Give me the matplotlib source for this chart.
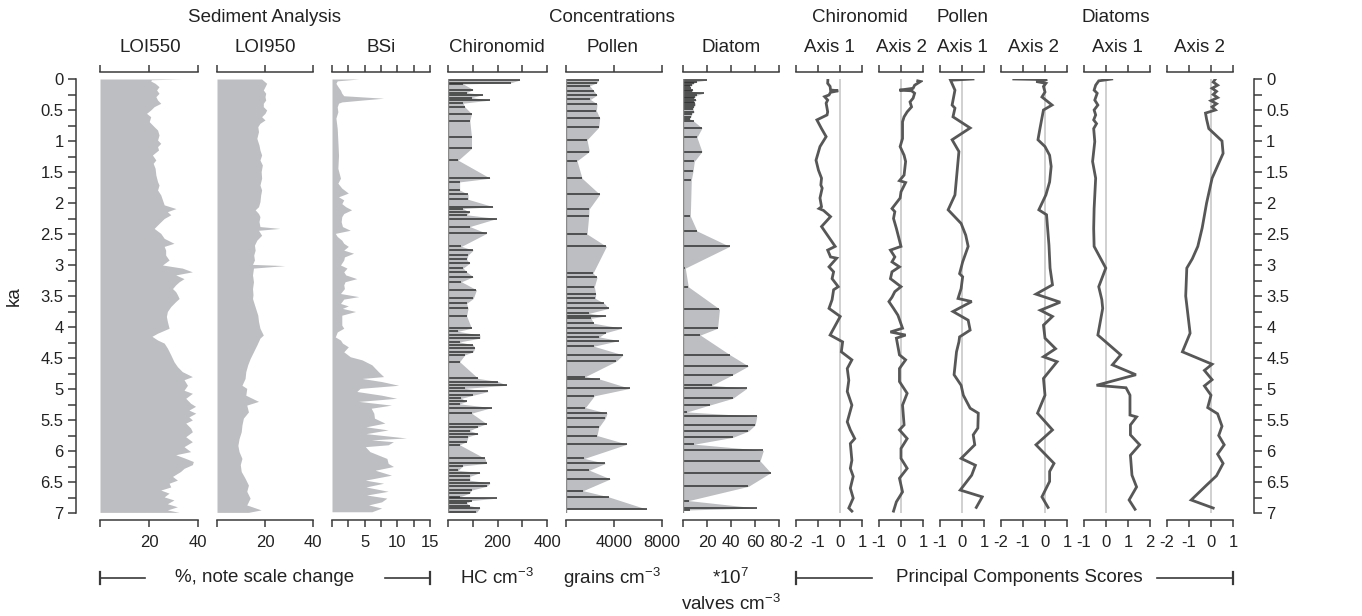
import matplotlib
matplotlib.use('Agg')
import matplotlib.pyplot as plt
from matplotlib.lines import Line2D

plt.rcParams['font.family'] = ['Liberation Sans', 'DejaVu Sans']
plt.rcParams['mathtext.fontset'] = 'custom'
plt.rcParams['mathtext.rm'] = 'Liberation Sans'
plt.rcParams['mathtext.it'] = 'Liberation Sans:italic'

# ---------------- data ----------------
loi550_age = [0.0,0.012,0.032,0.07,0.124,0.177,0.231,0.285,0.339,0.392,0.446,
              0.5,0.554,0.608,0.688,0.769,0.823,0.903,0.984,1.038,1.091,
              1.145,1.226,1.306,1.36,1.44,1.548,1.656,1.71,1.79,1.87,
              1.95,2.03,2.09,2.14,2.19,2.25,2.33,2.41,2.49,2.57,
              2.65,2.70,2.76,2.84,2.92,3.0,3.05,3.11,3.16,3.22,
              3.27,3.32,3.38,3.43,3.48,3.54,3.59,3.67,3.75,3.83,
              3.91,4.02,4.10,4.15,4.21,4.26,4.34,4.45,4.56,4.64,
              4.72,4.80,4.85,4.94,5.02,5.07,5.15,5.23,5.28,5.34,
              5.39,5.45,5.50,5.55,5.63,5.69,5.77,5.85,5.93,6.01,
              6.06,6.12,6.17,6.22,6.28,6.33,6.41,6.47,6.52,6.58,
              6.63,6.68,6.74,6.79,6.85,6.90,6.95,6.99]
loi550_val = [33.4,21.0,20.7,22.5,24.1,23.1,24.1,22.8,23.5,24.8,22.1,
              20.7,19.0,20.7,20.1,22.1,23.5,24.1,23.5,24.8,23.5,
              23.9,21.4,22.8,21.7,22.5,22.8,23.5,24.1,23.5,24.8,
              25.5,26.2,31.0,27.5,28.9,26.2,24.1,22.1,24.8,26.2,
              30.2,26.2,26.8,26.8,28.2,25.5,33.6,37.7,30.9,34.3,
              32.3,30.9,29.6,30.9,31.6,32.3,30.9,28.9,27.5,27.1,
              27.5,28.2,23.5,21.2,23.5,26.2,27.5,28.9,30.2,31.6,
              33.6,37.7,34.3,35.7,34.3,37.7,35.0,37.0,39.0,36.3,
              39.1,36.3,37.7,35.0,37.0,37.7,35.0,37.7,34.3,37.0,
              30.9,35.0,38.1,37.7,34.3,32.9,29.6,31.6,28.2,28.9,
              24.8,28.2,26.2,30.2,27.5,31.6,27.5,32.3]

loi950_age = [0.0,0.07,0.124,0.177,0.231,0.285,0.339,0.392,0.446,0.5,
              0.554,0.608,0.661,0.715,0.769,0.849,0.957,1.065,1.145,1.226,
              1.306,1.387,1.495,1.60,1.71,1.79,1.87,1.98,2.06,2.11,
              2.17,2.22,2.30,2.38,2.41,2.44,2.52,2.60,2.68,2.76,
              2.84,2.92,2.99,3.01,3.05,3.16,3.27,3.38,3.48,3.54,
              3.59,3.70,3.81,3.91,4.02,4.13,4.18,4.29,4.40,4.51,
              4.61,4.72,4.83,4.94,4.99,5.10,5.20,5.26,5.37,5.47,
              5.58,5.69,5.80,5.91,6.01,6.12,6.22,6.33,6.44,6.55,
              6.65,6.76,6.87,6.95,6.99]
loi950_val = [18.6,20.7,20.0,19.3,20.3,20.0,20.3,19.3,19.3,20.7,
              20.0,18.6,20.0,17.9,17.0,17.3,16.6,17.5,17.9,18.6,
              17.9,18.9,18.4,18.6,17.9,18.6,18.2,17.9,17.3,15.9,
              17.3,17.9,17.5,17.9,26.2,17.3,18.6,16.6,15.6,15.9,
              15.3,15.6,14.8,28.3,15.2,14.8,15.2,14.8,15.0,14.8,
              15.2,16.1,17.0,17.3,17.9,19.3,17.9,16.6,15.2,13.8,
              12.8,12.0,11.7,10.4,12.4,12.0,17.3,12.4,13.1,11.0,
              10.4,10.1,9.2,8.7,9.2,10.4,9.7,10.1,11.7,13.1,
              12.4,13.8,12.4,18.4,13.1]

bsi_age = [0.0,0.03,0.07,0.12,0.18,0.23,0.27,0.31,0.34,0.37,
           0.39,0.45,0.53,0.63,0.80,1.01,1.23,1.44,1.60,1.68,
           1.76,1.84,1.90,1.95,2.01,2.06,2.11,2.17,2.22,2.30,
           2.38,2.44,2.49,2.54,2.60,2.65,2.70,2.76,2.81,2.87,
           2.92,3.0,3.05,3.11,3.16,3.22,3.27,3.32,3.38,3.46,
           3.51,3.55,3.62,3.66,3.70,3.75,3.81,3.89,3.97,4.02,
           4.08,4.16,4.21,4.26,4.32,4.40,4.48,4.53,4.61,4.72,
           4.80,4.83,4.88,4.94,4.99,5.04,5.10,5.15,5.20,5.26,
           5.31,5.39,5.47,5.55,5.61,5.66,5.72,5.79,5.82,5.85,
           5.90,5.93,6.01,6.12,6.20,6.25,6.31,6.39,6.47,6.52,
           6.58,6.65,6.71,6.76,6.82,6.87,6.92,6.98]
bsi_val = [4.1,0.8,0.6,0.9,1.3,1.5,1.8,7.9,4.6,1.5,
           1.0,0.8,0.9,0.6,0.8,0.9,1.0,0.9,1.3,0.9,
           1.5,2.5,1.0,1.8,1.5,2.1,3.0,1.8,1.5,1.4,
           1.6,2.8,0.5,0.8,1.5,1.8,2.5,1.8,3.3,1.9,
           1.8,1.3,2.3,1.8,2.1,3.8,2.0,1.8,1.9,1.3,
           4.1,1.8,1.3,2.5,1.6,3.6,1.5,1.5,1.5,1.8,
           0.8,0.5,1.3,1.6,2.5,1.8,2.8,4.6,6.1,7.1,
           7.9,4.6,7.6,10.2,4.3,3.8,7.6,9.9,4.1,9.1,
           6.0,6.4,6.5,8.1,5.2,8.6,5.2,11.4,6.0,9.4,
           8.6,5.1,5.8,8.4,8.6,9.4,6.6,9.1,5.1,7.9,
           5.2,8.6,5.3,8.4,7.6,5.6,7.6,6.1]

chir_age = [0.016,0.06,0.08,0.17,0.22,0.25,0.30,0.34,0.39,0.45,
            0.56,0.67,0.94,1.12,1.31,1.60,1.66,1.79,1.86,1.94,
            2.06,2.09,2.15,2.19,2.25,2.38,2.49,2.70,2.76,2.84,
            2.91,2.97,3.05,3.11,3.19,3.27,3.40,3.54,3.62,3.70,
            3.82,4.02,4.07,4.13,4.18,4.24,4.29,4.34,4.40,4.45,
            4.56,4.83,4.88,4.94,4.99,5.04,5.10,5.15,5.20,5.24,
            5.30,5.39,5.56,5.61,5.67,5.72,5.77,5.85,5.90,6.12,
            6.20,6.24,6.31,6.35,6.41,6.47,6.52,6.57,6.63,6.68,
            6.74,6.76,6.80,6.84,6.88,6.92,6.99]
chir_val = [291,254,61,102,75,142,95,170,61,68,
            95,88,95,95,41,170,47,47,81,81,
            183,61,88,75,197,88,156,54,102,81,
            75,88,61,75,102,54,115,102,75,81,
            75,95,40,129,129,47,102,108,102,68,
            47,122,203,237,68,163,102,54,75,47,
            176,95,156,122,88,122,81,75,47,149,
            156,61,41,129,88,88,170,156,95,88,
            47,197,95,75,88,129,115]

pollen_age = [0.016,0.06,0.11,0.19,0.26,0.33,0.40,0.51,0.63,0.78,
              0.98,1.17,1.32,1.60,1.86,2.10,2.21,2.50,2.70,3.13,
              3.20,3.35,3.47,3.54,3.62,3.70,3.78,3.82,3.86,3.94,
              4.02,4.09,4.16,4.22,4.31,4.45,4.55,4.80,4.84,4.99,
              5.11,5.30,5.39,5.47,5.62,5.75,5.89,6.12,6.20,6.31,
              6.45,6.64,6.74,6.94]
pollen_val = [2724,2585,1974,2307,2585,2029,2585,2530,2808,2724,
              1751,1946,917,1334,2808,1918,1890,1751,3364,2252,
              2585,2363,2474,2446,3197,3558,1918,3364,2085,2307,
              4670,3336,2780,4392,2307,4754,4198,1612,2808,5310,
              2363,1612,3419,3280,2724,2585,5087,1529,3280,1946,
              3697,1418,3558,6755]

diatom_age = [0.016,0.043,0.07,0.097,0.12,0.15,0.18,0.20,0.23,0.26,
              0.285,0.31,0.34,0.37,0.39,0.42,0.45,0.49,0.53,0.56,
              0.61,0.64,0.68,0.79,0.94,1.17,1.33,1.49,1.63,2.21,
              2.45,2.70,3.05,3.35,3.71,4.02,4.13,4.45,4.63,4.77,
              4.94,4.99,5.15,5.26,5.37,5.44,5.58,5.68,5.78,5.89,
              5.99,6.16,6.35,6.57,6.80,6.92,6.95]
diatom_val = [19.9,11.6,8.9,7.5,6.1,6.6,8.3,7.5,17.2,11.6,
              10.2,9.4,11.1,8.9,10.2,10.2,8.9,8.3,9.4,7.5,
              6.6,5.5,8.9,15.8,11.6,15.8,9.4,8.3,6.9,6.1,
              11.6,38.8,1.9,4.4,30.4,28.8,14.4,39.3,54.5,41.5,
              24.1,53.1,41.5,22.1,3.3,61.5,60.1,54.5,41.5,9.4,
              67.0,64.2,73.1,54.5,4.7,61.5,6.1]

ca1_age = [0.0,0.07,0.12,0.177,0.19,0.215,0.258,0.285,0.34,0.39,
           0.53,0.58,0.66,0.80,0.93,1.09,1.31,1.47,1.60,1.71,
           1.76,1.92,2.06,2.09,2.12,2.22,2.38,2.70,2.76,2.87,
           2.89,3.03,3.11,3.22,3.35,3.40,3.56,3.70,3.83,4.13,
           4.24,4.40,4.53,4.67,4.86,5.04,5.26,5.53,5.66,5.80,
           5.88,6.15,6.28,6.41,6.60,6.76,6.92,6.97]
ca1_val = [-0.55,-0.56,-0.45,-0.43,-0.08,-0.43,-0.50,-0.70,-0.56,-0.63,
           -0.56,-0.59,-1.05,-0.84,-0.63,-0.91,-1.09,-0.98,-0.84,-0.87,
           -0.81,-0.91,-0.84,-0.95,-0.75,-0.43,-0.84,-0.22,-0.56,-0.43,
           -0.15,-0.50,-0.29,-0.36,-0.08,-0.29,-0.36,-0.50,0.01,-0.45,
           0.12,0.06,0.54,0.33,0.40,0.33,0.54,0.33,0.47,0.67,
           0.47,0.54,0.47,0.60,0.47,0.60,0.40,0.54]

ca2_age = [0.03,0.04,0.10,0.15,0.18,0.19,0.23,0.31,0.37,0.45,
           0.53,0.61,0.69,0.96,1.09,1.23,1.33,1.55,1.64,1.67,
           1.82,1.92,2.09,2.14,2.25,2.41,2.70,2.76,2.87,2.95,
           3.03,3.11,3.22,3.35,3.43,3.52,3.59,3.70,3.81,4.02,
           4.08,4.13,4.18,4.45,4.53,4.67,4.88,5.07,5.26,5.58,
           5.66,5.80,5.96,6.12,6.28,6.44,6.66,6.82,6.97]
ca2_val = [0.76,0.89,0.62,0.55,-0.07,0.48,0.62,0.55,0.41,0.48,
           0.28,0.14,0.07,0.07,-0.04,0.14,0.21,0.14,-0.07,0.21,
           0.0,-0.04,-0.41,-0.28,-0.34,-0.21,0.0,-0.48,-0.28,-0.41,
           -0.07,-0.41,-0.48,0.0,-0.28,-0.41,-0.55,-0.34,-0.14,0.07,
           -0.48,0.21,-0.21,-0.07,0.21,-0.07,-0.07,0.28,0.07,0.14,
           -0.07,0.28,0.0,0.0,0.28,-0.07,0.07,-0.21,-0.34]

pa1_age = [0.0,0.02,0.18,0.42,0.47,0.61,0.79,0.98,1.17,1.87,
           2.11,2.33,2.52,2.70,2.95,3.14,3.19,3.38,3.54,3.59,
           3.75,3.89,4.05,4.16,4.24,4.40,4.77,4.94,5.10,5.31,
           5.39,5.63,5.74,5.90,6.12,6.23,6.39,6.63,6.74,6.91]
pa1_val = [0.5,-0.52,-0.32,-0.45,-0.32,-0.41,0.37,-0.45,-0.14,-0.32,
           -0.63,-0.04,0.17,0.28,0.03,-0.11,0.03,-0.04,-0.18,0.44,
           -0.41,0.28,0.37,-0.11,-0.14,-0.25,-0.36,-0.04,0.06,0.37,
           0.74,0.72,0.51,0.58,-0.04,0.61,0.44,-0.08,0.92,0.65]

pa2_age = [0.0,0.01,0.04,0.07,0.12,0.21,0.29,0.42,0.50,0.63,
           0.80,0.98,1.09,1.23,1.41,1.66,1.87,2.11,2.19,2.68,
           3.05,3.32,3.47,3.60,3.73,3.83,3.97,4.18,4.35,4.48,
           4.56,4.83,5.10,5.39,5.66,5.90,6.20,6.33,6.49,6.74,6.91]
pa2_val = [-1.42,0.1,-0.4,0.04,-0.07,0.0,-0.14,0.32,-0.07,-0.14,
           -0.23,-0.32,0.0,0.21,0.28,0.21,0.04,-0.28,0.07,0.18,
           0.23,0.34,-0.41,0.69,-0.21,0.34,-0.07,0.0,0.48,-0.07,
           0.55,-0.07,0.0,-0.34,0.34,-0.41,0.41,0.21,0.21,-0.14,0.14]

da1_age = [0.0,0.03,0.10,0.18,0.23,0.34,0.42,0.50,0.58,0.66,
           0.72,0.80,1.01,1.33,1.60,2.09,2.41,2.70,3.05,3.35,
           3.56,3.70,4.13,4.45,4.61,4.77,4.94,4.98,5.10,5.42,
           5.45,5.58,5.74,5.90,6.07,6.39,6.58,6.79,6.94]
da1_val = [0.26,-0.33,-0.47,-0.54,-0.40,-0.51,-0.37,-0.54,-0.47,-0.56,
           -0.43,-0.56,-0.51,-0.61,-0.47,-0.54,-0.56,-0.54,-0.01,-0.33,
           -0.19,-0.15,-0.37,0.67,0.29,1.36,-0.43,0.91,1.09,1.09,
           1.39,1.11,1.11,1.53,1.11,1.18,1.39,1.05,1.32]

da2_age = [0.0,0.05,0.10,0.15,0.20,0.25,0.30,0.35,0.40,0.45,
           0.50,0.55,0.65,0.80,1.00,1.20,1.40,1.60,2.00,2.40,
           2.70,2.90,3.05,3.50,3.80,4.10,4.40,4.60,4.70,4.85,
           4.95,5.10,5.30,5.40,5.60,5.75,5.90,6.05,6.20,6.40,
           6.55,6.79,6.92]
da2_val = [0.2,0.1,0.3,0.05,0.25,0.1,0.3,0.0,0.25,0.05,
           0.2,-0.25,-0.2,-0.1,0.5,0.55,0.3,0.05,-0.2,-0.4,
           -0.6,-0.85,-1.1,-1.15,-1.05,-0.95,-1.3,0.05,-0.3,0.05,
           -0.3,0.0,-0.15,0.3,0.5,0.35,0.6,0.3,0.55,0.25,
           -0.2,-0.9,0.1]

# ---------------- layout / style ----------------
W, H = 1362, 616
GRAY = '#bdbec1'
DARK = '#303030'
LINE = '#575757'
SPINE = '#3a3a3a'
ZERO = '#c8c8c8'
TXT = '#222222'
Y0, Y1 = 79, 513
HEAD = 13.5
TICK = 12

fig = plt.figure(figsize=(W / 100, H / 100), dpi=100)


def make_ax(x0, x1, xlim, ticks, labels):
    ax = fig.add_axes([x0 / W, 1 - Y1 / H, (x1 - x0) / W, (Y1 - Y0) / H])
    ax.set_ylim(7, 0)
    ax.set_xlim(*xlim)
    ax.patch.set_visible(False)
    for s in ['left', 'right']:
        ax.spines[s].set_visible(False)
    for s in ['top', 'bottom']:
        ax.spines[s].set_position(('outward', 5))
        ax.spines[s].set_color(SPINE)
        ax.spines[s].set_linewidth(1.1)
    ax.set_xticks(ticks)
    ax.set_xticklabels(labels)
    ax.tick_params(axis='x', top=True, bottom=True, labeltop=False,
                   labelbottom=True, direction='out', length=5, width=1.1,
                   color=SPINE, labelsize=TICK, pad=6, labelcolor=TXT)
    ax.set_yticks([])
    return ax


def sediment(ax, age, val):
    ax.fill_betweenx(age, 0, val, color=GRAY, lw=0)


def concentration(ax, age, val):
    ax.fill_betweenx(age, 0, val, color=GRAY, lw=0)
    ax.hlines(age, 0, val, color=DARK, lw=1.1)
    ax.axvline(0, color='#8a8a8a', lw=1.0)


def pca(ax, age, val):
    ax.axvline(0, color=ZERO, lw=1.2)
    ax.plot(val, age, color=LINE, lw=2.0, solid_joinstyle='miter')


ax = make_ax(100, 198, (0, 40), [0, 20, 40], ['', '20', '40'])
sediment(ax, loi550_age, loi550_val)
ax = make_ax(217, 313, (0, 40), [0, 20, 40], ['', '20', '40'])
sediment(ax, loi950_age, loi950_val)
ax = make_ax(332, 430, (0, 15), [0, 2.5, 5, 7.5, 10, 12.5, 15],
             ['', '', '5', '', '10', '', '15'])
sediment(ax, bsi_age, bsi_val)

ax = make_ax(448, 547, (0, 400), [0, 100, 200, 300, 400], ['', '', '200', '', '400'])
concentration(ax, chir_age, chir_val)
ax = make_ax(566, 662, (0, 8000), [0, 4000, 8000], ['', '4000', '8000'])
concentration(ax, pollen_age, pollen_val)
ax = make_ax(683, 779, (0, 80), [0, 20, 40, 60, 80], ['', '20', '40', '60', '80'])
concentration(ax, diatom_age, diatom_val)

ax = make_ax(796, 862, (-2, 1), [-2, -1, 0, 1], ['-2', '-1', '0', '1'])
pca(ax, ca1_age, ca1_val)
ax = make_ax(879, 923, (-1, 1), [-1, 0, 1], ['-1', '0', '1'])
pca(ax, ca2_age, ca2_val)
ax = make_ax(940, 984, (-1, 1), [-1, 0, 1], ['-1', '0', '1'])
pca(ax, pa1_age, pa1_val)
ax = make_ax(1001, 1067, (-2, 1), [-2, -1, 0, 1], ['-2', '-1', '0', '1'])
pca(ax, pa2_age, pa2_val)
ax = make_ax(1084, 1150, (-1, 2), [-1, 0, 1, 2], ['-1', '0', '1', '2'])
pca(ax, da1_age, da1_val)
ax = make_ax(1167, 1233, (-2, 1), [-2, -1, 0, 1], ['-2', '-1', '0', '1'])
pca(ax, da2_age, da2_val)

# age axes
ka_ticks = [i * 0.5 for i in range(15)]
ka_labels = ['%g' % v for v in ka_ticks]
minor = [0.25 + i * 0.5 for i in range(14)]
for xpos, side in [(76, 'left'), (1253, 'right')]:
    a = fig.add_axes([xpos / W, 1 - Y1 / H, 0.0005, (Y1 - Y0) / H])
    a.set_ylim(7, 0)
    a.patch.set_visible(False)
    for s in ['top', 'bottom', 'left', 'right']:
        a.spines[s].set_visible(s == side)
    a.spines[side].set_color(SPINE)
    a.spines[side].set_linewidth(1.1)
    a.set_xticks([])
    a.set_yticks(ka_ticks)
    a.set_yticklabels(ka_labels)
    a.set_yticks(minor, minor=True)
    a.yaxis.set_ticks_position(side)
    a.tick_params(axis='y', which='major', direction='out', length=6, width=1.1,
                  color=SPINE, labelsize=TICK, pad=3, labelcolor=TXT)
    a.tick_params(axis='y', which='minor', direction='out', length=6, width=1.1,
                  color=SPINE)

fig.text(14 / W, 1 - 296 / H, 'ka', rotation=90, ha='center', va='center',
         fontsize=HEAD, color=TXT)


def t(x, y, s, size=HEAD):
    fig.text(x / W, 1 - y / H, s, ha='center', va='center', fontsize=size,
             color=TXT)


t(265, 17, 'Sediment Analysis')
t(150, 48, 'LOI550'); t(265, 48, 'LOI950'); t(381, 48, 'BSi')
t(612, 17, 'Concentrations')
t(497, 48, 'Chironomid'); t(613, 48, 'Pollen'); t(731, 48, 'Diatom')
t(860, 17, 'Chironomid'); t(962, 17, 'Pollen'); t(1116, 17, 'Diatoms')
t(829, 48, 'Axis 1'); t(901, 48, 'Axis 2'); t(962, 48, 'Axis 1')
t(1034, 48, 'Axis 2'); t(1117, 48, 'Axis 1'); t(1200, 48, 'Axis 2')

t(265, 578, '%, note scale change')
t(497, 578, 'HC cm$^{-3}$')
t(612, 578, 'grains cm$^{-3}$')
t(731, 578, '*10$^{7}$')
t(731, 604, 'valves cm$^{-3}$')
t(1019, 578, 'Principal Components Scores')


def bracket(xa, xb, cap_x, y=578):
    fig.add_artist(Line2D([xa / W, xb / W], [1 - y / H, 1 - y / H], color=SPINE, lw=1.2))
    fig.add_artist(Line2D([cap_x / W, cap_x / W], [1 - (y - 6) / H, 1 - (y + 6) / H],
                          color=SPINE, lw=1.6))


bracket(100, 145, 100)
bracket(385, 430, 430)
bracket(796, 872, 796)
bracket(1157, 1233, 1233)

fig.savefig('out.png', dpi=100)
